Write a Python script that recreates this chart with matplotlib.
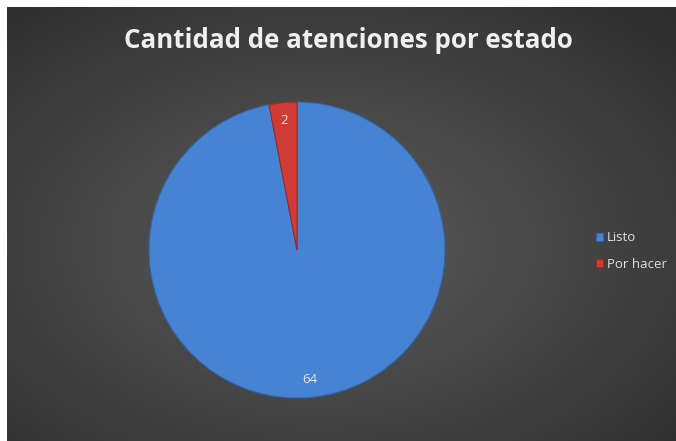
"""Gráfico de torta: cantidad de atenciones por estado."""

import matplotlib
matplotlib.use("Agg")
import matplotlib.pyplot as plt
import numpy as np

# ── Datos ──────────────────────────────────────────────────────────────────────
ESTADOS = ["Listo", "Por hacer"]
CANTIDADES = [64, 2]
COLORES = ["#4683d3", "#d13b36"]
BORDES = ["#3464a8", "#9a2a26"]

W, H = 676, 441
DPI = 100

fig = plt.figure(figsize=(W / DPI, H / DPI), dpi=DPI, facecolor="white")

# ── Fondo con degradado radial ─────────────────────────────────────────────────
bg = fig.add_axes([7 / W, 0, (W - 7) / W, (H - 7) / H])
bg.set_axis_off()
yy, xx = np.mgrid[0:1:300j, 0:1:460j]
dist = np.sqrt(((xx - 0.47) / 0.75) ** 2 + ((yy - 0.45) / 0.75) ** 2)
dist = np.clip(dist, 0, 1)
shade = 0.36 - 0.18 * dist
rgb = np.dstack([shade, shade, shade])
bg.imshow(rgb, aspect="auto", extent=[0, 1, 0, 1], origin="lower")
bg.set_xlim(0, 1)
bg.set_ylim(0, 1)

fig.text(348 / W, 1 - 41 / H, "Cantidad de atenciones por estado",
         ha="center", va="center", fontsize=18.6, fontweight="bold",
         color="#f0f0f0", family="Open Sans")

# ── Torta ──────────────────────────────────────────────────────────────────────
cx, cy, r = 297, 250, 148
ax = fig.add_axes([(cx - r) / W, (H - cy - r) / H, 2 * r / W, 2 * r / H])
ax.set_axis_off()

wedges, _, autotexts = ax.pie(
    CANTIDADES,
    colors=COLORES,
    startangle=90,
    counterclock=False,
    autopct=lambda p: f"{round(p * sum(CANTIDADES) / 100):d}",
    pctdistance=0.88,
    textprops=dict(color="#e8e8e8", fontsize=9.5, family="Open Sans"),
)
for w, ec in zip(wedges, BORDES):
    w.set_edgecolor(ec)
    w.set_linewidth(0.8)
ax.set_xlim(-1, 1)
ax.set_ylim(-1, 1)

# ── Leyenda ────────────────────────────────────────────────────────────────────
fig.legend(
    wedges, ESTADOS,
    loc="center left", bbox_to_anchor=(584 / W, 1 - 251 / H),
    frameon=False, handlelength=0.55, handleheight=0.55,
    handletextpad=0.3, labelspacing=1.0, labelcolor="#e0e0e0",
    prop=dict(family="Open Sans", size=9.5),
)

fig.savefig("out.png", dpi=DPI, facecolor="white")
